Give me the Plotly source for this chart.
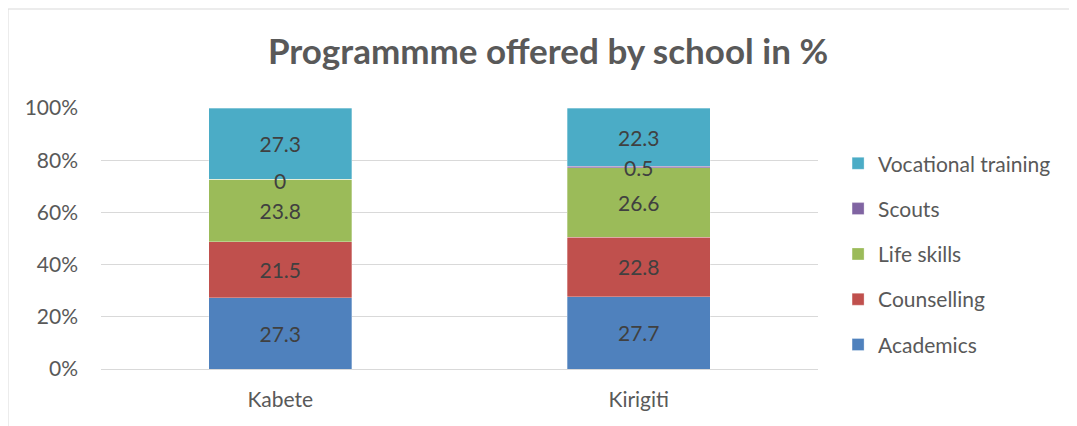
import plotly.graph_objects as go
import numpy as np

schools = ["Kabete", "Kirigiti"]
series_names = ["Academics", "Counselling", "Life skills", "Scouts", "Vocational training"]
academics = [27.3, 27.7]
counselling = [21.5, 22.8]
life_skills = [23.8, 26.6]
scouts = [0, 0.5]
vocational = [27.3, 22.3]
y_ticks = [0, 20, 40, 60, 80, 100]
y_tick_labels = ["0%", "20%", "40%", "60%", "80%", "100%"]

colors = ["#4F81BD", "#C0504D", "#9BBB59", "#8064A2", "#4BACC6"]
series = [academics, counselling, life_skills, scouts, vocational]

font = "Lato, 'Open Sans', sans-serif"
W, H = 1069, 418
L, R, T, B = 93, 259, 100, 57
PW, PH = W - L - R, H - T - B
fig = go.Figure()
for i, (name, vals) in enumerate(zip(series_names, series)):
    is_scouts = name == "Scouts"
    fig.add_trace(go.Bar(
        x=schools, y=vals, name=name,
        marker=dict(color=colors[i], line=dict(color="rgba(255,255,255,0.5)", width=0.6)),
        text=[str(v) for v in vals],
        textposition="none" if is_scouts else "inside",
        insidetextanchor="middle",
        textfont=dict(family=font, size=21, color="#404040"),
        legendgroup=name,
        legendrank=1000 - i,
        width=0.4,
        hoverinfo="skip",
    ))

# labels for the thin Scouts segment, placed at the segment position computed from data
totals = np.sum(np.array(series), axis=0)
below = np.array(academics) + np.array(counselling) + np.array(life_skills)
for j, s in enumerate(schools):
    ypos = (below[j] + scouts[j] / 2) / totals[j] * 100
    fig.add_annotation(x=s, y=ypos, text=str(scouts[j]), showarrow=False,
                       font=dict(family=font, size=21, color="#404040"), yshift=-1)

fig.update_layout(
    barmode="stack", barnorm="percent",
    width=W, height=H,
    margin=dict(l=L, r=R, t=T, b=B),
    paper_bgcolor="white", plot_bgcolor="white",
    title=dict(text="<b>Programmme offered by school in %</b>", x=(548 - 8) / W, xanchor="center",
               y=1 - 44 / H, yanchor="middle",
               font=dict(family=font, size=35, color="#595959")),
    yaxis=dict(range=[0, 100], tickvals=y_ticks, ticktext=y_tick_labels, showgrid=True,
               gridcolor="#D9D9D9", gridwidth=1, zeroline=False,
               tickfont=dict(family=font, size=21, color="#595959"),
               ticks="", ticklabelstandoff=22),
    xaxis=dict(tickfont=dict(family=font, size=21, color="#595959"), showline=True,
               linecolor="#D9D9D9", linewidth=1, ticks="", ticklabelstandoff=12),
    legend=dict(x=1.028, xanchor="left", y=0.44, yanchor="middle",
                traceorder="grouped", tracegroupgap=15,
                font=dict(family=font, size=21, color="#595959"),
                itemwidth=30),
    showlegend=True,
)
fig.add_shape(type="rect", xref="paper", yref="paper",
              x0=-L / PW, x1=2.0, y0=-1.0, y1=(PH + T - 1) / PH,
              line=dict(color="#D9D9D9", width=1), fillcolor="rgba(0,0,0,0)", layer="below")
fig.write_html("out.html")
